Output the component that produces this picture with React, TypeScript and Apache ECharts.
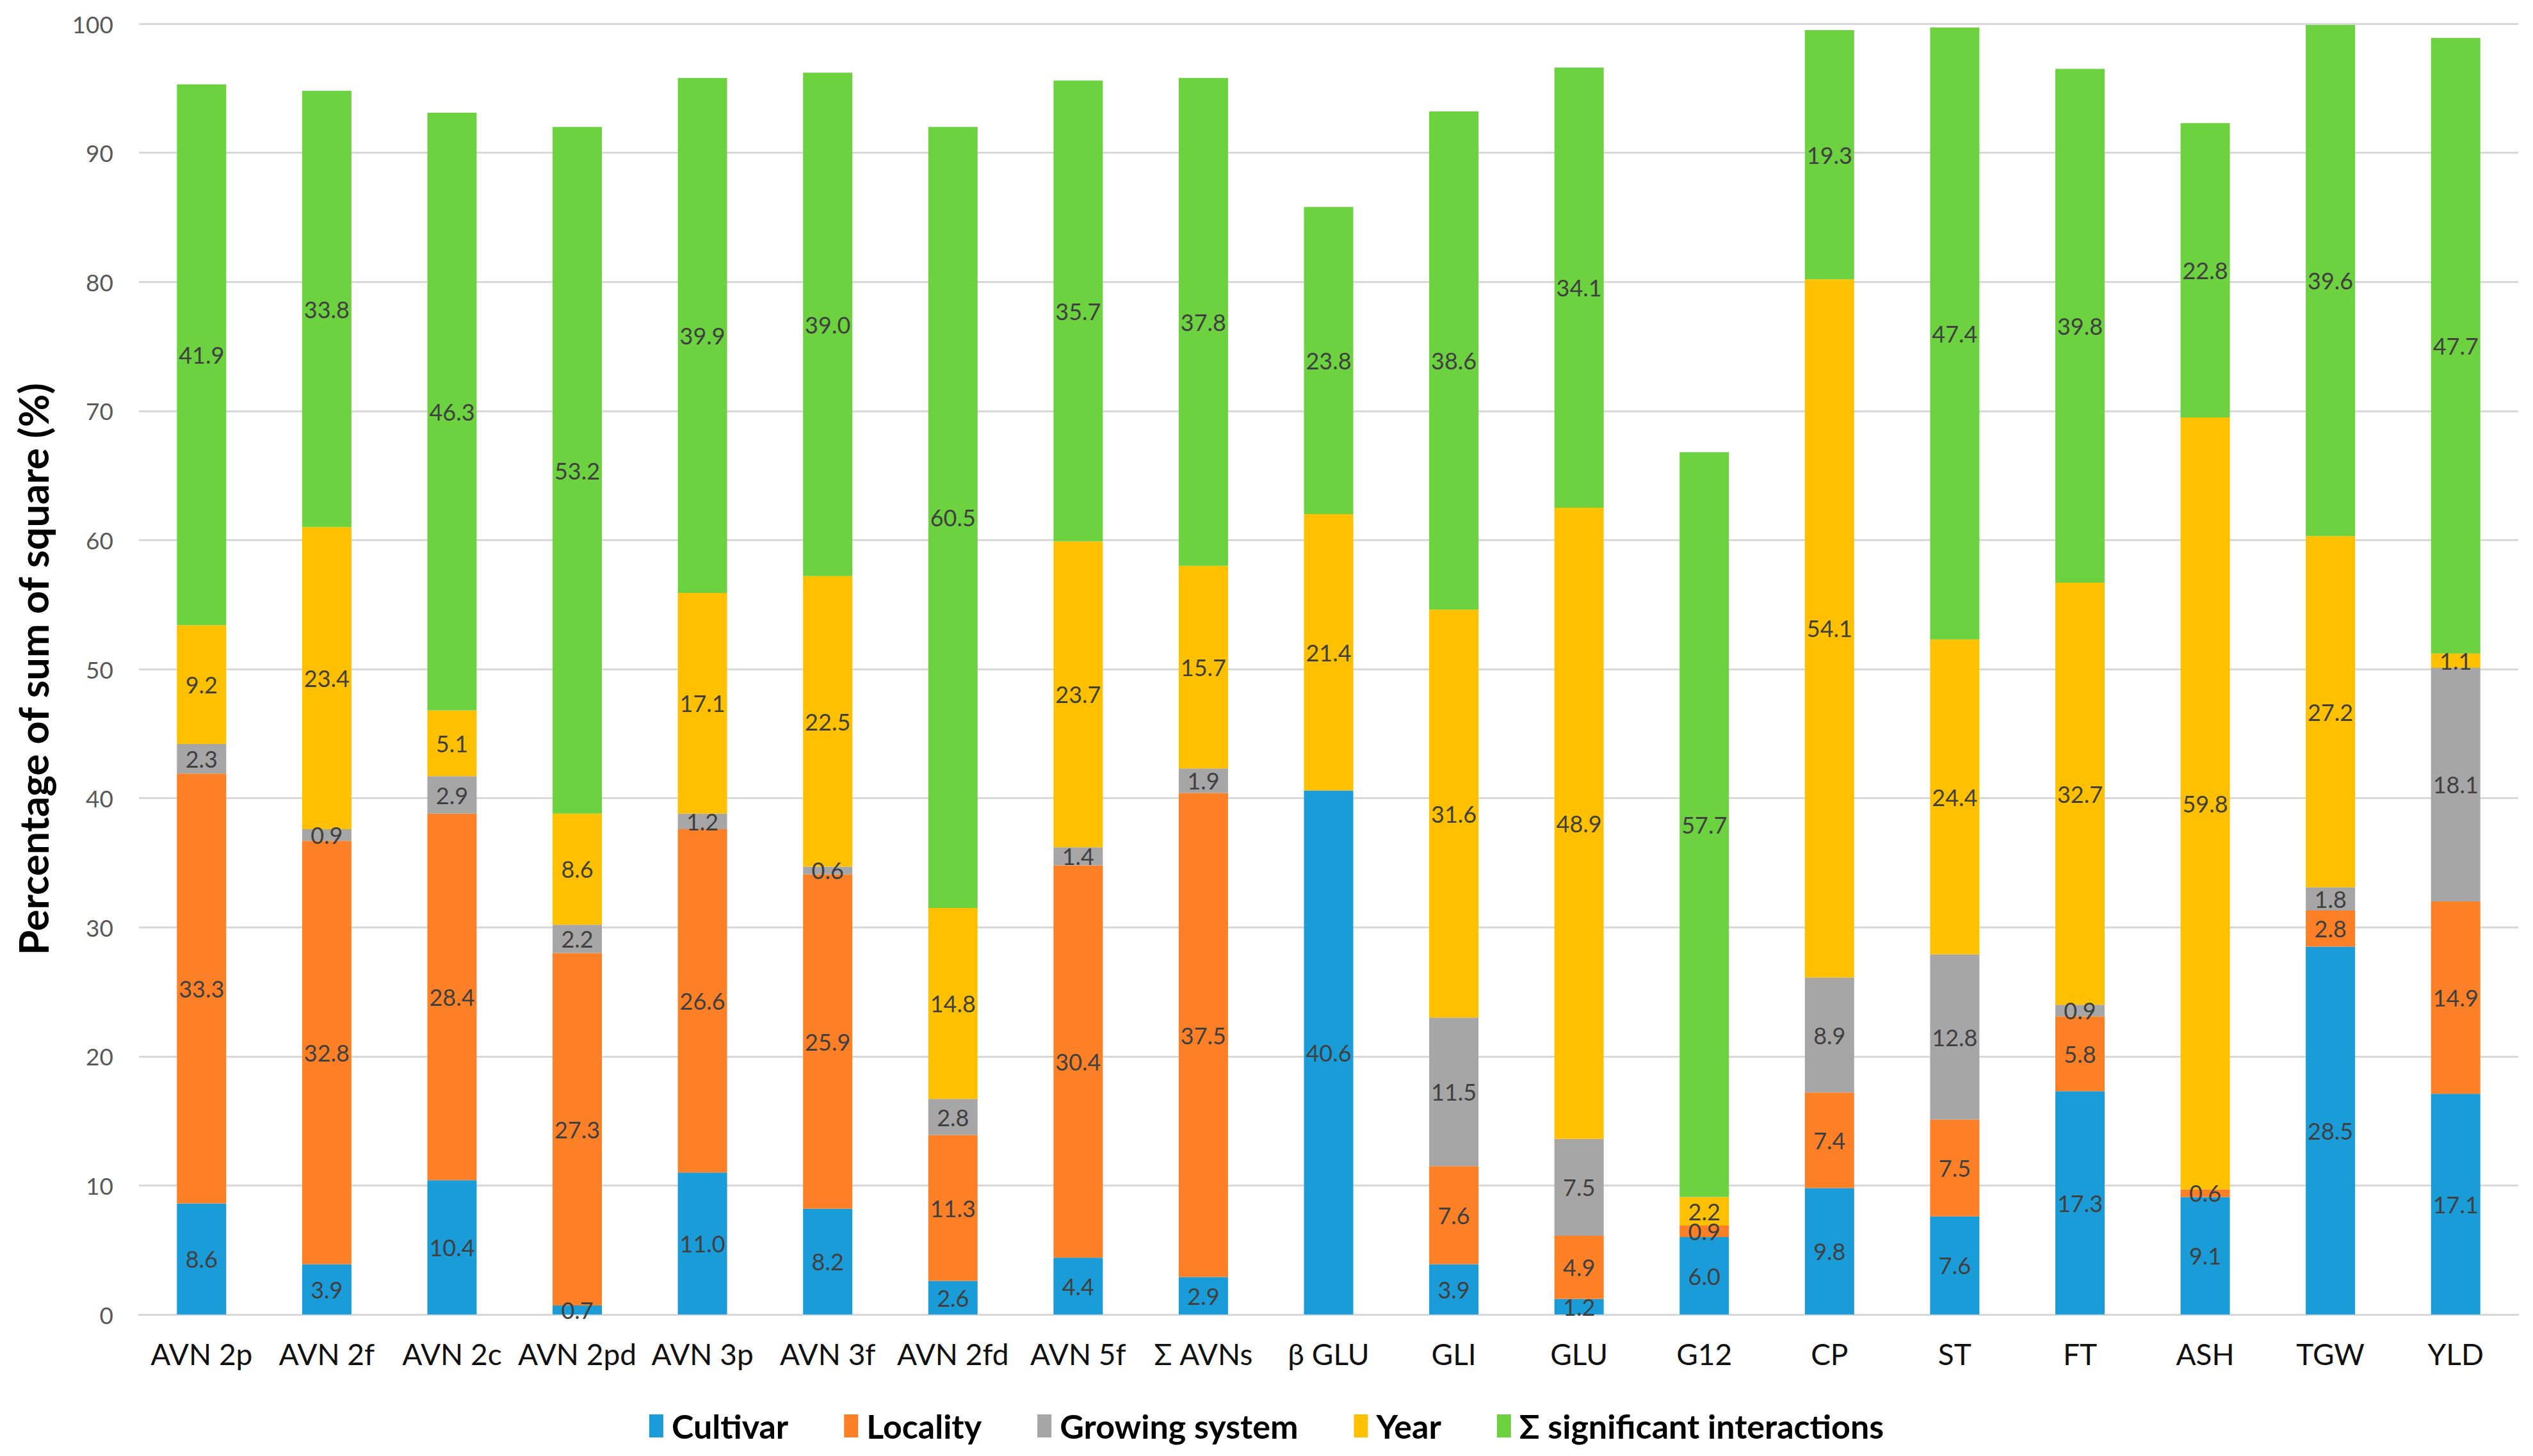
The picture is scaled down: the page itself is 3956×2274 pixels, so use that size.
import React, { useEffect, useRef } from "react";
import * as echarts from "echarts";

const categories = ["AVN 2p", "AVN 2f", "AVN 2c", "AVN 2pd", "AVN 3p", "AVN 3f", "AVN 2fd", "AVN 5f", "Σ AVNs", "β GLU", "GLI", "GLU", "G12", "CP", "ST", "FT", "ASH", "TGW", "YLD"];
const cultivar = [8.6, 3.9, 10.4, 0.7, 11.0, 8.2, 2.6, 4.4, 2.9, 40.6, 3.9, 1.2, 6.0, 9.8, 7.6, 17.3, 9.1, 28.5, 17.1];
const locality = [33.3, 32.8, 28.4, 27.3, 26.6, 25.9, 11.3, 30.4, 37.5, 0, 7.6, 4.9, 0.9, 7.4, 7.5, 5.8, 0.6, 2.8, 14.9];
const growingSystem = [2.3, 0.9, 2.9, 2.2, 1.2, 0.6, 2.8, 1.4, 1.9, 0, 11.5, 7.5, 0, 8.9, 12.8, 0.9, 0, 1.8, 18.1];
const year = [9.2, 23.4, 5.1, 8.6, 17.1, 22.5, 14.8, 23.7, 15.7, 21.4, 31.6, 48.9, 2.2, 54.1, 24.4, 32.7, 59.8, 27.2, 1.1];
const interactions = [41.9, 33.8, 46.3, 53.2, 39.9, 39.0, 60.5, 35.7, 37.8, 23.8, 38.6, 34.1, 57.7, 19.3, 47.4, 39.8, 22.8, 39.6, 47.7];
const seriesNames = ["Cultivar", "Locality", "Growing system", "Year", "Σ significant interactions"];
const seriesColors = ["#1a9cd8", "#fd7f26", "#a6a6a6", "#ffc000", "#6cd23f"];

const FONT = "Lato, 'Noto Sans', sans-serif";

export default function App() {
  const ref = useRef<HTMLDivElement>(null);
  useEffect(() => {
    document.body.style.margin = "0";
    const chart = echarts.init(ref.current!, null, { renderer: "svg" });
    const values = [cultivar, locality, growingSystem, year, interactions];
    chart.setOption({
      animation: false,
      backgroundColor: "#ffffff",
      textStyle: { fontFamily: FONT },
      grid: { left: 217, right: 23, top: 37, bottom: 221, containLabel: false },
      legend: {
        data: seriesNames,
        left: "center",
        top: 2196,
        itemWidth: 22,
        itemHeight: 36,
        itemGap: 87,
        icon: "rect",
        textStyle: { fontFamily: FONT, fontSize: 52, fontWeight: "bold", color: "#000", padding: [0, 0, 0, 8] },
      },
      xAxis: {
        type: "category",
        data: categories,
        axisTick: { show: false },
        axisLine: { lineStyle: { color: "#d9d9d9", width: 3 } },
        axisLabel: { fontFamily: FONT, fontSize: 46, color: "#111", margin: 38, interval: 0 },
      },
      yAxis: {
        type: "value",
        min: 0,
        max: 100,
        interval: 10,
        name: "Percentage of sum of square (%)",
        nameLocation: "middle",
        nameGap: 134,
        nameTextStyle: { fontFamily: FONT, fontSize: 63, fontWeight: "bold", color: "#000" },
        axisLine: { show: false },
        axisTick: { show: false },
        axisLabel: { fontFamily: FONT, fontSize: 37, color: "#595959", margin: 40 },
        splitLine: { lineStyle: { color: "#d9d9d9", width: 3 } },
      },
      series: seriesNames.map((name, i) => ({
        name,
        type: "bar",
        stack: "total",
        barWidth: 77,
        data: values[i],
        itemStyle: { color: seriesColors[i] },
        label: {
          show: true,
          position: "inside",
          fontFamily: FONT,
          fontSize: 36,
          color: "#404040",
          formatter: (p: any) => (p.value ? Number(p.value).toFixed(1) : ""),
        },
      })),
    });
    return () => chart.dispose();
  }, []);
  return <div ref={ref} style={{ width: 3956, height: 2274 }} />;
}
